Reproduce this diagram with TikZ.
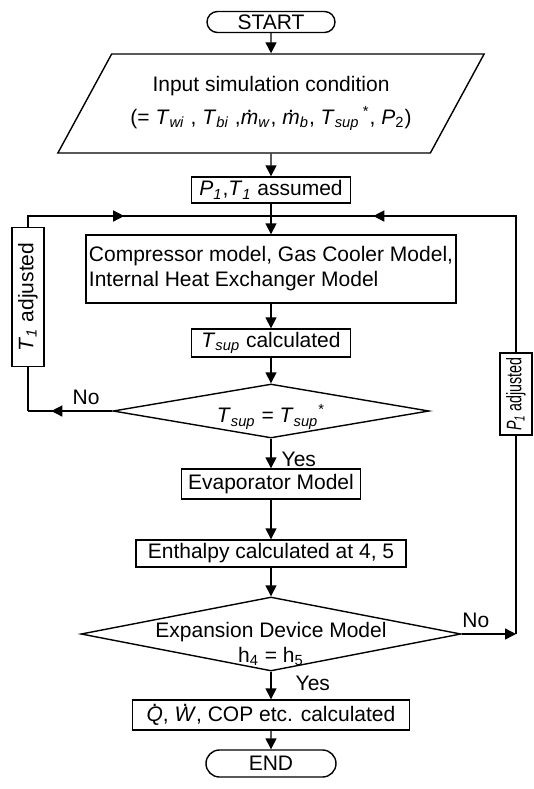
\documentclass[tikz,border=0pt]{standalone}
\usepackage{fontspec}
\setmainfont{Liberation Sans}
\usetikzlibrary{arrows.meta, shapes.geometric, shapes.misc, decorations.markings}

\newcommand{\vsub}[2]{\textit{#1}\textsubscript{\textit{#2}}}
% dot placed over an italic letter (flow rates, rates of heat/work)
\newcommand{\dt}[1]{{\sbox0{\textit{#1}}\ooalign{\usebox0\cr\hidewidth\raisebox{\dimexpr\ht0+0.3pt\relax}{.}\hidewidth\cr}}}

\begin{document}
\begin{tikzpicture}[x=0.5pt, y=-0.5pt, line width=0.7pt, font=\fontsize{10.5}{12.5}\selectfont,
        every node/.style={inner sep=0pt},
        proc/.style={rectangle, draw},
        term/.style={rounded rectangle, draw},
        io/.style={trapezium, trapezium left angle=49, trapezium right angle=131,
            trapezium stretches=true, draw},
        test/.style={diamond, draw},
        side/.style={rectangle, draw, rotate=90, minimum height=16pt},
        arr/.style={-{Triangle[length=5.5pt, width=5.5pt]}},
        midarr/.style={postaction={decorate}, decoration={markings,
            mark=at position #1 with {\arrow{Triangle[length=5.5pt, width=5.5pt]}}}}]
    \useasboundingbox (0, 0) rectangle (534, 789);

    % main column
    \node[term, minimum width=64pt, minimum height=10.5pt] at (271, 22) (start) {START};
    \node[io, minimum width=213.5pt, minimum height=49.5pt, align=center] at (271, 103.5) (input)
        {Input simulation condition\\[4pt](= \vsub{T}{wi} , \vsub{T}{bi} ,\dt{m}\textsubscript{\textit{w}}, \dt{m}\textsubscript{\textit{b}}, \vsub{T}{sup}\,\textsuperscript{*}, \textit{P}\textsubscript{2})};
    \node[proc, minimum width=79.5pt, minimum height=13pt] at (271, 190) (assume) {\vsub{P}{1},\vsub{T}{1} assumed};
    \node[proc, minimum width=185pt, minimum height=34pt, align=left] at (271, 269) (models)
        {Compressor model, Gas Cooler Model,\\Internal Heat Exchanger Model};
    \node[proc, minimum width=79.5pt, minimum height=14pt] at (271, 343) (tsup) {\vsub{T}{sup} calculated};
    \node[test, aspect=5.85, minimum width=158pt, minimum height=27pt,
        label={[yshift=-3pt]center:\vsub{T}{sup} = \vsub{T}{sup}\textsuperscript{*}}] at (271, 411) (check1) {};
    \node[proc, minimum width=89.5pt, minimum height=15pt] at (271, 484) (evap) {Evaporator Model};
    \node[proc, minimum width=135pt, minimum height=13.5pt] at (271, 553.5) (enth) {Enthalpy calculated at 4, 5};
    \node[test, aspect=5.1, minimum width=190pt, minimum height=37pt,
        label={[align=center, yshift=-5pt]center:Expansion Device Model\\h\textsubscript{4} = h\textsubscript{5}}] at (271, 634) (check2) {};
    \node[proc, minimum width=138.5pt, minimum height=15pt] at (271, 715) (result) {\dt{Q}, \dt{W}, COP etc. calculated};
    \node[term, minimum width=65pt, minimum height=13.5pt] at (271, 763.5) (end) {END};

    % correction boxes
    \node[side, minimum width=69.5pt] at (28, 297) (tadj) {\vsub{T}{1} adjusted};
    \node[side, minimum width=41pt] at (516, 394) (padj) {\scalebox{0.68}[1]{\vsub{P}{1} adjusted}};

    \coordinate (join) at (271, 216);
    \coordinate (cL) at (tadj.west |- check1.west);
    \coordinate (cR) at (padj.west |- check2.east);

    \draw[arr] (start) -- (input);
    \draw[arr] (input) -- (assume);
    \draw[arr] (assume) -- (models);
    \draw[arr] (models) -- (tsup);
    \draw[arr] (tsup) -- (check1);
    \draw[arr] (check1) -- (evap) node[pos=0.7, anchor=west, xshift=5pt] {Yes};
    \draw[arr] (evap) -- (enth);
    \draw[arr] (enth) -- (check2);
    \draw[arr] (check2) -- (result) node[pos=0.42, anchor=west, xshift=12pt] {Yes};
    \draw[arr] (result) -- (end);

    % T1 loop
    \draw[midarr=30.5pt] (check1.west) -- (cL) node[pos=0.31, above=3pt] {No};
    \draw (cL) -- (tadj.west);
    \draw[midarr=53.5pt] (tadj.east) |- (join);

    % P1 loop
    \draw[arr] (check2.east) -- (cR) node[pos=0.26, above=3pt] {No};
    \draw (cR) -- (padj.west);
    \draw[midarr=139.5pt] (padj.east) |- (join);
\end{tikzpicture}
\end{document}
